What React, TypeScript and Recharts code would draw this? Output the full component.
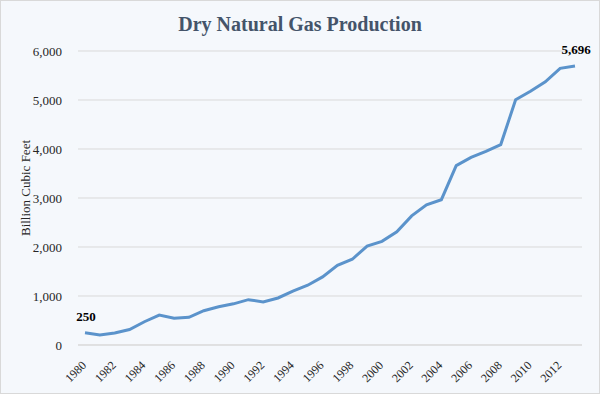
import { LineChart, Line, XAxis, YAxis, CartesianGrid, Label } from "recharts";

const years = [
  "1980", "1981", "1982", "1983", "1984", "1985", "1986", "1987", "1988", "1989",
  "1990", "1991", "1992", "1993", "1994", "1995", "1996", "1997", "1998", "1999",
  "2000", "2001", "2002", "2003", "2004", "2005", "2006", "2007", "2008", "2009",
  "2010", "2011", "2012", "2013",
];

const production = [
  250, 205, 245, 315, 475, 610, 545, 565, 700, 780,
  840, 925, 880, 960, 1100, 1220, 1390, 1625, 1750, 2020,
  2115, 2310, 2635, 2860, 2965, 3660, 3830, 3950, 4090, 5005,
  5180, 5370, 5645, 5696,
];

const yTicks = [0, 1000, 2000, 3000, 4000, 5000, 6000];
const xTicks = ["1980", "1982", "1984", "1986", "1988", "1990", "1992", "1994", "1996", "1998", "2000", "2002", "2004", "2006", "2008", "2010", "2012"];

const rows = years.map((year, i) => ({ year, value: production[i] }));

const serif = "Liberation Serif";

function YearTick({ x, y, payload }: any) {
  return (
    <g transform={`translate(${x - 1},${y + 10})`}>
      <text textAnchor="end" transform="rotate(-45)" fontSize={12} fill="#262626" fontFamily={serif} dy="0.35em">
        {payload.value}
      </text>
    </g>
  );
}

// only the first and last points get a value label
function EndLabel({ x, y, index, value }: any) {
  if (index !== 0 && index !== production.length - 1) return null;
  return (
    <text x={x + 1} y={y - 12} textAnchor="middle" fontSize={13} fontWeight="bold" fill="#000" fontFamily={serif}>
      {value.toLocaleString("en-US")}
    </text>
  );
}

export default function App() {
  return (
    <div
      style={{
        position: "absolute",
        left: 0,
        top: 0,
        width: 598,
        height: 392,
        border: "1px solid #d9d9d9",
        background: "#f5f8fc",
        fontFamily: serif,
      }}
    >
      <div
        style={{
          position: "absolute",
          top: 12,
          width: "100%",
          textAlign: "center",
          fontSize: 20,
          fontWeight: "bold",
          color: "#44546a",
        }}
      >
        Dry Natural Gas Production
      </div>
      <LineChart
        width={598}
        height={392}
        data={rows}
        margin={{ top: 51, right: 16, left: 0, bottom: 0 }}
        style={{ position: "absolute", left: -1, top: -1 }}
      >
        <CartesianGrid vertical={false} stroke="#d9d9d9" />
        <XAxis
          dataKey="year"
          ticks={xTicks}
          interval={0}
          height={47}
          padding={{ left: 7, right: 7 }}
          axisLine={{ stroke: "#d9d9d9" }}
          tickLine={false}
          tick={<YearTick />}
        />
        <YAxis
          domain={[0, 6000]}
          ticks={yTicks}
          width={78}
          axisLine={false}
          tickLine={false}
          tickMargin={10}
          tick={{ fontSize: 13, fill: "#262626", fontFamily: serif }}
          tickFormatter={(v: number) => v.toLocaleString("en-US")}
        >
          <Label
            value="Billion Cubic Feet"
            angle={-90}
            position="insideLeft"
            offset={25}
            dy={-10}
            style={{ fontSize: 13, fill: "#262626", fontFamily: serif, textAnchor: "middle" }}
          />
        </YAxis>
        <Line
          type="linear"
          dataKey="value"
          stroke="#5b93cb"
          strokeWidth={3}
          dot={false}
          isAnimationActive={false}
          label={<EndLabel />}
        />
      </LineChart>
    </div>
  );
}
